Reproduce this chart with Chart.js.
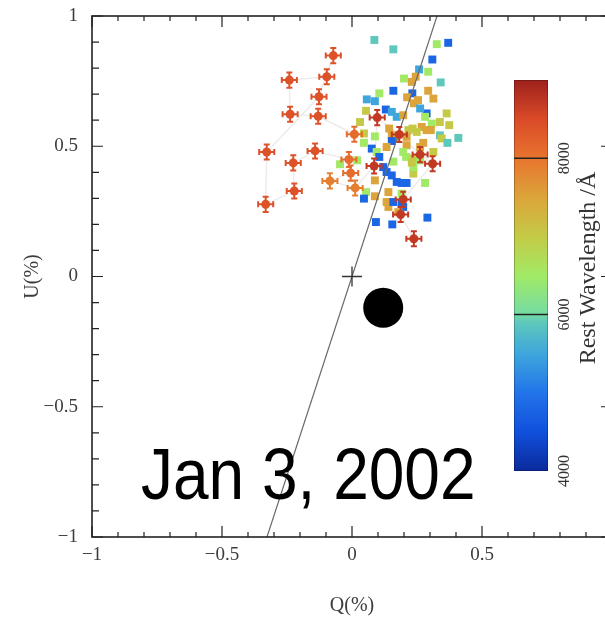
<!DOCTYPE html>
<html>
<head>
<meta charset="utf-8">
<script src="https://cdn.jsdelivr.net/npm/chart.js@4.4.1/dist/chart.umd.min.js"></script>
<style>
html,body{margin:0;padding:0;background:#fff;overflow:hidden;}
#wrap{width:605px;height:621px;overflow:hidden;position:relative;}
canvas{display:block;}
</style>
</head>
<body>
<div id="wrap"><canvas id="c" width="625" height="621" style="width:625px;height:621px"></canvas></div>
<script>
// ---------- DATA ----------
// Binned points (squares): Q (%), U (%), rest wavelength (Å)
const sqQ = [0.086,0.159,0.370,0.326,0.309,0.293,0.341,0.258,0.245,0.230,0.200,0.159,0.232,0.293,0.313,0.212,0.238,0.254,0.105,0.057,0.088,0.130,0.153,0.172,0.054,0.197,0.287,0.262,0.281,0.364,0.338,0.374,0.307,0.268,0.233,0.217,0.088,0.046,0.031,0.169,0.143,0.153,0.153,0.210,0.249,0.287,0.303,0.338,0.345,0.367,0.409,0.274,0.133,0.076,0.095,0.105,0.210,0.236,0.197,0.208,0.262,0.313,0.262,-0.046,0.020,0.120,0.133,0.153,0.172,0.191,0.210,0.236,0.236,0.281,0.088,0.088,0.054,0.046,0.140,0.133,0.140,0.191,0.197,0.159,0.092,0.155,0.290,0.178,0.159,0.046,0.230,0.191];
const sqU = [0.908,0.872,0.897,0.892,0.833,0.786,0.745,0.795,0.767,0.747,0.760,0.713,0.703,0.713,0.683,0.688,0.665,0.677,0.703,0.680,0.673,0.641,0.632,0.613,0.636,0.619,0.626,0.645,0.613,0.626,0.593,0.581,0.587,0.574,0.568,0.562,0.538,0.549,0.593,0.530,0.568,0.542,0.520,0.536,0.555,0.562,0.562,0.542,0.530,0.513,0.532,0.513,0.497,0.491,0.478,0.459,0.504,0.453,0.478,0.459,0.497,0.478,0.446,0.431,0.446,0.420,0.401,0.388,0.363,0.359,0.359,0.395,0.420,0.359,0.369,0.308,0.324,0.299,0.324,0.286,0.267,0.318,0.267,0.286,0.209,0.200,0.226,0.247,0.441,0.513,0.437,0.280];
const sqWave = [5900,5900,4800,6500,4800,6500,5900,5500,7500,7500,6500,4800,4800,7500,7500,7500,7500,7500,6500,5500,5500,4800,5500,5500,7000,7500,4800,5500,6500,7000,7000,7000,6500,7500,7000,7000,6500,7000,7000,5900,7500,7500,4800,7500,7000,7500,7500,5900,7000,5900,5900,7500,7500,4800,6500,4800,7500,7000,6500,6500,7500,7000,6500,6500,6500,4800,4800,4800,4800,4800,4800,7000,6500,6500,7500,7500,6500,4800,7500,7500,7500,6500,4800,4800,4800,4800,4800,7500,6500,6500,7000,4800];

// Red-end points with error bars: Q, U, wavelength, errors
const redQ = [0.009,-0.130,-0.238,-0.241,-0.097,-0.072,-0.127,-0.328,-0.332,-0.222,-0.226,-0.142,-0.012,-0.005,-0.085,0.012,0.085,0.097,0.182,0.262,0.310,0.197,0.187,0.238];
const redU = [0.546,0.615,0.623,0.754,0.767,0.848,0.690,0.478,0.277,0.328,0.436,0.482,0.449,0.397,0.367,0.340,0.424,0.610,0.545,0.468,0.433,0.296,0.238,0.145];
const redWave = [8100,8400,8400,8400,8400,8400,8400,8400,8400,8400,8400,8400,8100,8100,7900,7900,8700,8700,8700,8700,8700,8700,8700,8700];
const redErrQ = [0.029,0.029,0.029,0.029,0.029,0.029,0.029,0.029,0.029,0.029,0.029,0.029,0.029,0.029,0.029,0.029,0.029,0.029,0.029,0.029,0.029,0.029,0.029,0.029];
const redErrU = [0.029,0.029,0.029,0.029,0.029,0.029,0.029,0.029,0.029,0.029,0.029,0.029,0.029,0.029,0.029,0.029,0.029,0.029,0.029,0.029,0.029,0.029,0.029,0.029];

// Dominant axis line through origin
const axisLineQ = [-0.327, 0.327];
const axisLineU = [-1, 1];
// Origin marker and ISP (black disc)
const originQ = [0], originU = [0];
const ispQ = [0.12], ispU = [-0.12];

// Ticks
const xTicks = [-1, -0.5, 0, 0.5, 1];
const yTicks = [-1, -0.5, 0, 0.5, 1];
const minorStep = 0.1;
const cbRange = [4000, 9000];
const cbTicks = [4000, 6000, 8000];
const cbLines = [6000, 8000];
const dateLabel = 'Jan 3, 2002';

// ---------- STYLE ----------
const cmapStops = [
  [4000,'#0b2a9c'],[4500,'#1050dc'],[5000,'#2274ea'],[5500,'#3ea6dc'],
  [5900,'#5ec8bc'],[6000,'#74dca4'],[6500,'#a2ea66'],[7000,'#c4ca46'],
  [7500,'#dca43a'],[8000,'#e8742e'],[8500,'#da4a28'],[9000,'#9e211c']
];
function hex2rgb(h){return [parseInt(h.slice(1,3),16),parseInt(h.slice(3,5),16),parseInt(h.slice(5,7),16)];}
function cmap(w){
  if (w <= cmapStops[0][0]) return cmapStops[0][1];
  for (let i=1;i<cmapStops.length;i++){
    if (w <= cmapStops[i][0]){
      const [w0,c0]=cmapStops[i-1],[w1,c1]=cmapStops[i];
      const t=(w-w0)/(w1-w0), a=hex2rgb(c0), b=hex2rgb(c1);
      const r=a.map((v,k)=>Math.round(v+(b[k]-v)*t));
      return 'rgb('+r.join(',')+')';
    }
  }
  return cmapStops[cmapStops.length-1][1];
}
const SERIF = '"Liberation Serif", "DejaVu Serif", serif';
const TICKCOL = '#3c3c3c';
const fmt = v => v === 0 ? '0' : (v < 0 ? '\u2212' + Math.abs(v) : String(v));

const sqData = sqQ.map((q,i)=>({x:q,y:sqU[i]}));
const redData = redQ.map((q,i)=>({x:q,y:redU[i]}));

// ---------- PLUGINS ----------
const framePlugin = {
  id:'frame',
  afterDatasetsDraw(chart){
    const {ctx, chartArea:a, scales:{x,y}} = chart;
    ctx.save();
    ctx.strokeStyle = '#222'; ctx.lineWidth = 1.6;
    ctx.strokeRect(a.left, a.top, a.right-a.left, a.bottom-a.top);
    ctx.lineWidth = 1.2;
    const majX = 11, minX = 5, majY = 11, minY = 7;
    const nMinor = Math.round(2/minorStep);
    for (let k=0;k<=nMinor;k++){
      const v = -1 + k*minorStep;
      const isMajX = xTicks.some(t=>Math.abs(t-v)<1e-6);
      const isMajY = yTicks.some(t=>Math.abs(t-v)<1e-6);
      const px = x.getPixelForValue(v), py = y.getPixelForValue(v);
      const lx = isMajX?majX:minX, ly = isMajY?majY:minY;
      ctx.beginPath();
      ctx.moveTo(px,a.bottom); ctx.lineTo(px,a.bottom-lx);
      ctx.moveTo(px,a.top); ctx.lineTo(px,a.top+lx);
      ctx.moveTo(a.left,py); ctx.lineTo(a.left+ly,py);
      ctx.moveTo(a.right,py); ctx.lineTo(a.right-ly,py);
      ctx.stroke();
    }
    // tick labels
    ctx.fillStyle = TICKCOL;
    ctx.font = '19px ' + SERIF;
    ctx.textAlign = 'center'; ctx.textBaseline = 'middle';
    xTicks.forEach(v=>ctx.fillText(fmt(v), x.getPixelForValue(v), a.bottom + 18));
    ctx.textAlign = 'right';
    yTicks.forEach(v=>ctx.fillText(fmt(v), a.left - 14, y.getPixelForValue(v)));
    ctx.restore();
  }
};

const errorBarPlugin = {
  id:'errbars',
  afterDatasetsDraw(chart){
    const {ctx, scales:{x,y}} = chart;
    ctx.save();
    ctx.lineWidth = 2;
    redQ.forEach((q,i)=>{
      const u = redU[i], col = cmap(redWave[i]);
      const px = x.getPixelForValue(q), py = y.getPixelForValue(u);
      const x0 = x.getPixelForValue(q-redErrQ[i]), x1 = x.getPixelForValue(q+redErrQ[i]);
      const y0 = y.getPixelForValue(u-redErrU[i]), y1 = y.getPixelForValue(u+redErrU[i]);
      ctx.strokeStyle = col;
      ctx.beginPath();
      ctx.moveTo(x0,py); ctx.lineTo(x1,py);
      ctx.moveTo(px,y0); ctx.lineTo(px,y1);
      ctx.moveTo(x0,py-3); ctx.lineTo(x0,py+3);
      ctx.moveTo(x1,py-3); ctx.lineTo(x1,py+3);
      ctx.moveTo(px-3,y0); ctx.lineTo(px+3,y0);
      ctx.moveTo(px-3,y1); ctx.lineTo(px+3,y1);
      ctx.stroke();
    });
    ctx.restore();
  }
};

const colorbarPlugin = {
  id:'colorbar',
  afterDraw(chart){
    const ctx = chart.ctx;
    const L = 514, R = 548, T = 80, B = 471;
    const yOf = w => B - (w - cbRange[0])/(cbRange[1]-cbRange[0])*(B-T);
    ctx.save();
    const g = ctx.createLinearGradient(0,B,0,T);
    cmapStops.forEach(([w,c])=>g.addColorStop((w-cbRange[0])/(cbRange[1]-cbRange[0]), c));
    ctx.fillStyle = g;
    ctx.fillRect(L,T,R-L,B-T);
    ctx.strokeStyle = 'rgba(0,0,0,0.25)'; ctx.lineWidth = 1;
    ctx.strokeRect(L+0.5,T+0.5,R-L-1,B-T-1);
    ctx.strokeStyle = '#222'; ctx.lineWidth = 1.5;
    cbLines.forEach(w=>{ctx.beginPath();ctx.moveTo(L,yOf(w));ctx.lineTo(R,yOf(w));ctx.stroke();});
    ctx.fillStyle = '#333';
    ctx.font = '16px ' + SERIF;
    ctx.textAlign = 'center'; ctx.textBaseline = 'middle';
    cbTicks.forEach(w=>{
      ctx.save(); ctx.translate(565, yOf(w)); ctx.rotate(-Math.PI/2);
      ctx.fillText(String(w),0,0); ctx.restore();
    });
    ctx.font = '24px ' + SERIF;
    ctx.save(); ctx.translate(589, 268); ctx.rotate(-Math.PI/2);
    ctx.fillText('Rest Wavelength /\u00C5',0,0); ctx.restore();
    ctx.restore();
  }
};

const datePlugin = {
  id:'dateLabel',
  afterDraw(chart){
    const ctx = chart.ctx;
    ctx.save();
    ctx.fillStyle = '#000';
    ctx.font = '64px "Liberation Sans", Arial, sans-serif';
    ctx.textAlign = 'left'; ctx.textBaseline = 'alphabetic';
    ctx.translate(141, 499); ctx.scale(1, 1.12);
    ctx.fillText(dateLabel, 0, 0);
    ctx.restore();
  }
};

// ---------- CHART ----------
new Chart(document.getElementById('c').getContext('2d'), {
  type:'scatter',
  data:{
    datasets:[
      { label:'red', data:redData, order:0, pointStyle:'circle', pointRadius:4.5,
        pointBackgroundColor:redWave.map(cmap), pointBorderColor:redWave.map(cmap), pointBorderWidth:0 },
      { label:'origin', data:originQ.map((q,i)=>({x:q,y:originU[i]})), order:1, pointStyle:'cross',
        pointRadius:10, pointBorderColor:'#333', pointBorderWidth:1.3 },
      { label:'axis', data:axisLineQ.map((q,i)=>({x:q,y:axisLineU[i]})), order:2, showLine:true,
        borderColor:'#6a6a6a', borderWidth:1.2, pointRadius:0 },
      { label:'bins', data:sqData, order:3, pointStyle:'rect', pointRadius:5.6,
        pointBackgroundColor:sqWave.map(cmap), pointBorderColor:sqWave.map(cmap), pointBorderWidth:0 },
      { label:'links', data:redData, order:4, showLine:true, borderColor:'#ececec', borderWidth:1.5, pointRadius:0 },
      { label:'isp', data:ispQ.map((q,i)=>({x:q,y:ispU[i]})), order:5, pointStyle:'circle',
        pointRadius:20, pointBackgroundColor:'#000', pointBorderColor:'#000', pointBorderWidth:0 }
    ]
  },
  options:{
    responsive:false, animation:false, events:[],
    layout:{autoPadding:false, padding:{left:0,right:13,top:16,bottom:0}},
    plugins:{legend:{display:false}, tooltip:{enabled:false}},
    scales:{
      x:{ type:'linear', min:-1, max:1,
        afterBuildTicks:s=>{s.ticks = xTicks.map(v=>({value:v}));},
        afterFit:s=>{s.height = 84;},
        grid:{display:false, drawTicks:false}, border:{display:false},
        ticks:{display:false},
        title:{display:true, text:'Q(%)', color:TICKCOL, font:{family:SERIF,size:20}, padding:{top:0,bottom:3}}
      },
      y:{ type:'linear', min:-1, max:1,
        afterBuildTicks:s=>{s.ticks = yTicks.map(v=>({value:v}));},
        afterFit:s=>{s.width = 92;},
        grid:{display:false, drawTicks:false}, border:{display:false},
        ticks:{display:false},
        title:{display:true, text:'U(%)', color:TICKCOL, font:{family:SERIF,size:20}, padding:{top:21,bottom:0}}
      }
    }
  },
  plugins:[framePlugin, errorBarPlugin, colorbarPlugin, datePlugin]
});
</script>
</body>
</html>
